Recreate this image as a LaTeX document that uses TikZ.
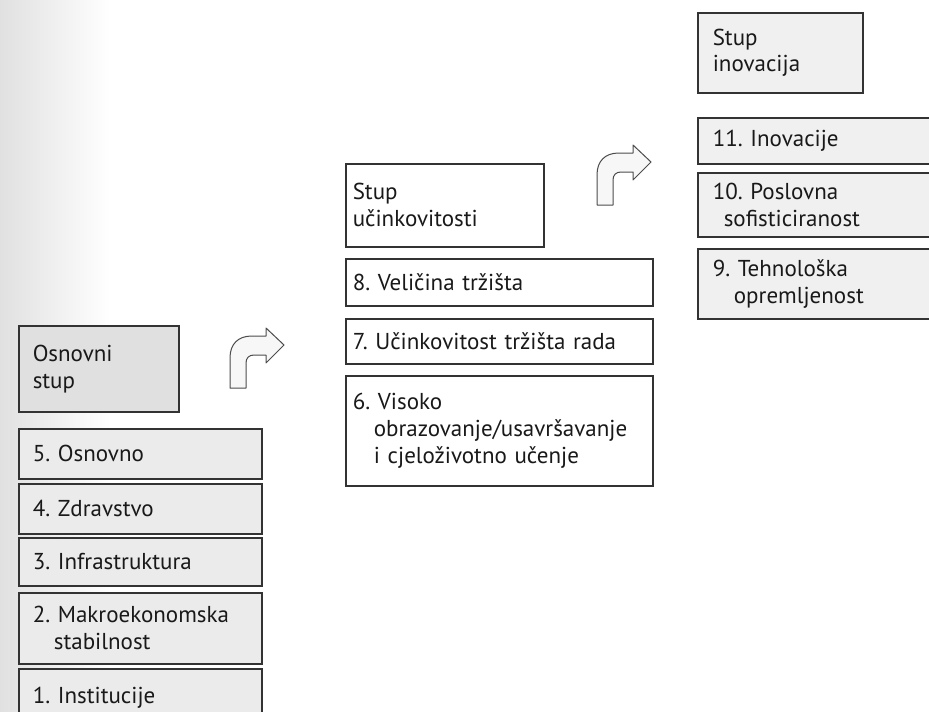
\documentclass[tikz,border=0pt]{standalone}
\usepackage{fontspec}
\setmainfont{PT Sans}
\frenchspacing
\newcommand{\hang}{\hspace*{0.92em}}
\begin{document}
\begin{tikzpicture}[x=1pt,y=-1pt,
	every node/.style={font=\fontsize{23}{27}\selectfont, text=black!90},
	pbox/.style={draw=black!80, line width=1.5pt, anchor=north west, align=left, inner ysep=0pt},
	leftcol/.style={pbox, fill=black!8, inner xsep=14pt},
	midcol/.style={pbox, fill=white, inner xsep=7pt},
	rightcol/.style={pbox, fill=black!6, inner xsep=15pt},
	bendarrow/.pic={
		\draw[black!70, line width=1pt, fill=black!3, line join=round] (0,60) -- (0,30) .. controls (0,16) and (8,8) .. (22,8) -- (36,8) -- (36,0) -- (54,17) -- (36,35) -- (36,27) -- (24,27) .. controls (19,27) and (16,30) .. (16,35) -- (16,60) -- cycle;
	}]
			\useasboundingbox (0,0) rectangle (929,712);
			\clip (0,0) rectangle (929,712);
			\shade[left color=black!12, right color=white] (0,0) rectangle (110,712);
			% osnovni stup
			\node[leftcol, fill=black!12, text width=132pt, minimum height=86pt] (basic) at (18,325) {Osnovni\\stup};
			\foreach \n/\y/\h/\t in {b5/428/50/{5. Osnovno}, b4/483/50/{4. Zdravstvo}, b3/537/48/{3. Infrastruktura}, b2/592/71/{2. Makroekonomska\\\hang stabilnost}, b1/668/58/{1. Institucije}} {
				\node[leftcol, text width=215pt, minimum height=\h pt] (\n) at (18,\y) {\t};
			};
			\pic at (230,328) {bendarrow};
			% stup ucinkovitosti
			\node[midcol, text width=184pt, minimum height=83pt] (efficiency) at (345,163) {Stup\\učinkovitosti};
			\foreach \n/\y/\h/\t in {b8/258/47/{8. Veličina tržišta}, b7/318/45/{7. Učinkovitost tržišta rada}, b6/375/110/{6. Visoko\\\hang obrazovanje/usavršavanje\\\hang i cjeloživotno učenje}} {
				\node[midcol, text width=293pt, minimum height=\h pt] (\n) at (345,\y) {\t};
			};
			\pic at (597,145) {bendarrow};
			% stup inovacija
			\node[rightcol, text width=135pt, minimum height=80pt] (innovation) at (697,12) {Stup\\inovacija};
			\foreach \n/\y/\h/\t in {b11/117/46/{11. Inovacije}, b10/172/64/{10. Poslovna\\\hspace*{0.48em}sofisticiranost}, b9/248/70/{9. Tehnološka\\\hang opremljenost}} {
				\node[rightcol, text width=210pt, minimum height=\h pt] (\n) at (697,\y) {\t};
			};
		\end{tikzpicture}
\end{document}
